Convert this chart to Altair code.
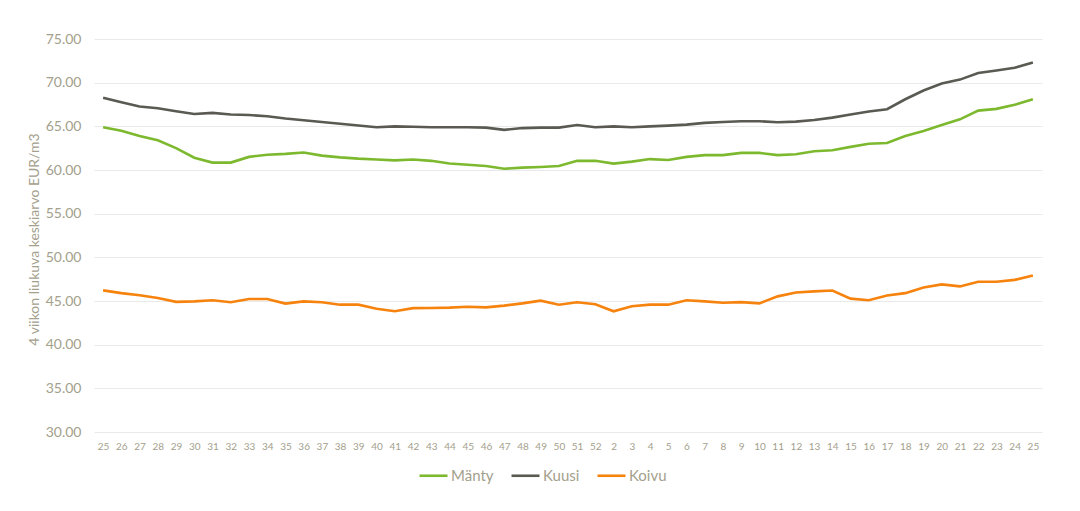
import altair as alt
import pandas as pd

weeks = ["25","26","27","28","29","30","31","32","33","34","35","36","37","38","39","40",
         "41","42","43","44","45","46","47","48","49","50","51","52","2","3","4","5","6",
         "7","8","9","10","11","12","13","14","15","16","17","18","19","20","21","22","23","24","25"]

manty = [64.9, 64.5, 63.9, 63.4, 62.5, 61.4, 60.85, 60.85, 61.5, 61.75, 61.85, 62.0, 61.65, 61.45,
         61.3, 61.2, 61.1, 61.2, 61.05, 60.75, 60.6, 60.45, 60.15, 60.27, 60.35, 60.45, 61.05, 61.05,
         60.73, 60.96, 61.25, 61.15, 61.5, 61.7, 61.7, 61.96, 61.96, 61.7, 61.8, 62.15, 62.27, 62.65,
         63.0, 63.1, 63.9, 64.46, 65.15, 65.8, 66.8, 67.0, 67.46, 68.1]

kuusi = [68.27, 67.77, 67.27, 67.08, 66.73, 66.42, 66.54, 66.35, 66.3, 66.15, 65.9, 65.7, 65.5,
         65.3, 65.1, 64.9, 65.0, 64.95, 64.9, 64.9, 64.9, 64.85, 64.6, 64.8, 64.85, 64.85, 65.15,
         64.9, 65.0, 64.9, 65.0, 65.08, 65.2, 65.4, 65.5, 65.58, 65.58, 65.46, 65.54, 65.73, 66.0,
         66.35, 66.7, 66.96, 68.1, 69.1, 69.9, 70.35, 71.1, 71.4, 71.7, 72.3]

koivu = [46.22, 45.9, 45.65, 45.34, 44.9, 44.96, 45.08, 44.85, 45.23, 45.23, 44.7, 44.96, 44.85,
         44.58, 44.58, 44.12, 43.82, 44.18, 44.2, 44.24, 44.35, 44.27, 44.47, 44.73, 45.04, 44.58,
         44.85, 44.62, 43.82, 44.39, 44.58, 44.58, 45.08, 44.96, 44.8, 44.87, 44.73, 45.53, 45.98,
         46.1, 46.2, 45.27, 45.08, 45.64, 45.9, 46.55, 46.9, 46.67, 47.2, 47.2, 47.42, 47.92]

series_names = ["Mänty", "Kuusi", "Koivu"]
series_colors = ["#7db92f", "#5a5a52", "#f7830f"]

rows = []
for name, vals in zip(series_names, [manty, kuusi, koivu]):
    for i, v in enumerate(vals):
        rows.append({"i": i, "week": weeks[i], "sarja": name, "arvo": v})
df = pd.DataFrame(rows)

txt = "#a3a08c"
font = "Lato"
label_expr = "[" + ",".join("'" + w + "'" for w in weeks) + "][datum.value]"

chart = alt.Chart(df).mark_line(strokeWidth=2.6).encode(
    x=alt.X("i:O", scale=alt.Scale(type="point", padding=0.5),
            axis=alt.Axis(title=None, labelExpr=label_expr, labelAngle=0, ticks=False, tickSize=0,
                          domain=False, grid=False, labelFontSize=10, labelColor=txt,
                          labelFont=font, labelPadding=9)),
    y=alt.Y("arvo:Q", scale=alt.Scale(domain=[30, 75], nice=False, zero=False),
            axis=alt.Axis(title="4 viikon liukuva keskiarvo EUR/m3", values=[30,35,40,45,50,55,60,65,70,75],
                          format=".2f", ticks=False, tickSize=0, domain=False, grid=True,
                          gridColor="#e9e9e9", gridWidth=1, labelFontSize=14, labelColor=txt,
                          labelFont=font, labelPadding=13, titleFont=font, titleFontSize=14,
                          titleFontWeight="normal", titleColor=txt, titleX=-60, titleY=200,
                          titleAngle=-90, titleAlign="center", titleBaseline="middle")),
    color=alt.Color("sarja:N", scale=alt.Scale(domain=series_names, range=series_colors),
                    legend=alt.Legend(title=None, orient="none", legendX=324, legendY=421,
                                      direction="horizontal", symbolType="stroke",
                                      symbolSize=784, symbolStrokeWidth=2.6, labelFont=font,
                                      labelFontSize=15, labelColor=txt, labelOffset=2,
                                      columnPadding=12)),
    order=alt.Order("i:Q"),
).properties(
    width=948, height=393, autosize="none",
    padding={"left": 86, "top": 31, "right": 30, "bottom": 60},
).configure_view(stroke=None)

chart.save("out.html", embed_options={"renderer": "svg", "actions": False})
